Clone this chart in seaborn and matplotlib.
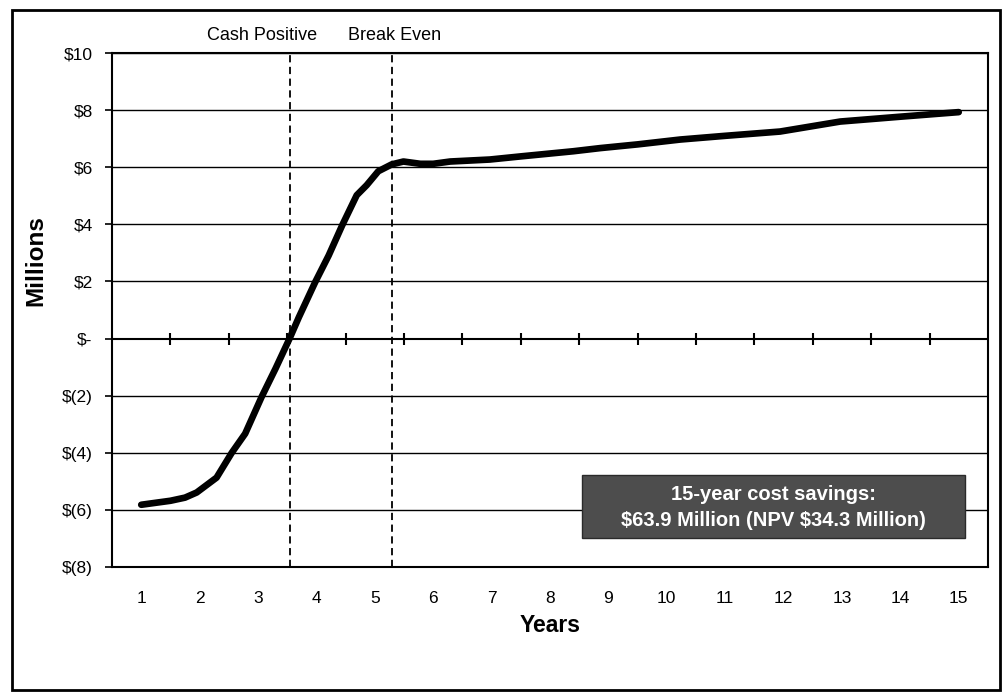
import matplotlib
matplotlib.use("Agg")
import matplotlib.pyplot as plt
from matplotlib.patches import Rectangle
import matplotlib.ticker as mticker
import numpy as np
import pandas as pd
import seaborn as sns

# Cumulative savings over the project life (millions of dollars)
years_t = [1.0, 1.5, 1.75, 1.95, 2.29, 2.55, 2.78, 3.06, 3.30, 3.54, 3.70, 3.98,
           4.21, 4.44, 4.69, 4.86, 5.06, 5.29, 5.49, 5.78, 6.0, 6.29, 6.97, 7.5,
           8.0, 8.40, 8.86, 9.5, 10.23, 11.0, 11.94, 12.97, 14.0, 15.0]
cum_savings = [-5.82, -5.68, -5.57, -5.39, -4.87, -4.00, -3.33, -2.05, -1.05, 0.00,
               0.75, 1.98, 2.91, 3.96, 5.02, 5.37, 5.86, 6.10, 6.20, 6.12, 6.12,
               6.20, 6.27, 6.38, 6.48, 6.56, 6.67, 6.80, 6.97, 7.10, 7.25, 7.60,
               7.77, 7.93]

year_labels = list(range(1, 16))
y_ticks = [-8, -6, -4, -2, 0, 2, 4, 6, 8, 10]

milestone_names = ["Cash Positive", "Break Even"]
milestone_years = [3.54, 5.30]
milestone_label_x = [3.07, 5.33]

box_lines = ["15-year cost savings:", "$63.9 Million (NPV $34.3 Million)"]

sns.set_theme(style="white")
plt.rcParams["font.family"] = ["Liberation Sans", "DejaVu Sans"]

fig = plt.figure(figsize=(10.03, 6.93), dpi=100)
ax = fig.add_axes([0.1117, 0.1818, 0.8733, 0.7417])

df = pd.DataFrame({"year": years_t, "savings": cum_savings})

ax.set_xlim(0.5, 15.5)
ax.set_ylim(-8, 10)

# horizontal gridlines
for yv in y_ticks:
    ax.axhline(yv, color="black", lw=1.0 if yv != 0 else 1.5, zorder=1)

# category separators on the zero line
half = np.arange(1.5, 15.0, 1.0)
ax.plot(half, np.zeros_like(half), ls="none", marker="|", ms=9, mew=1.5,
        color="black", zorder=2)

# milestone markers
for name, xm, xl in zip(milestone_names, milestone_years, milestone_label_x):
    ax.axvline(xm, color="black", lw=1.3, ls=(0, (4, 2.5)), zorder=2)
    ax.text(xl, 1.035, name, transform=ax.get_xaxis_transform(),
            ha="center", va="center", fontsize=13, color="black")

sns.lineplot(data=df, x="year", y="savings", ax=ax, color="black", lw=4.8,
             estimator=None, sort=False, zorder=4,
             solid_capstyle="round", solid_joinstyle="round")

def money(v, pos):
    v = int(round(v))
    if v == 0:
        return "$-"
    if v < 0:
        return f"$({-v})"
    return f"${v}"

ax.set_yticks(y_ticks)
ax.yaxis.set_major_formatter(mticker.FuncFormatter(money))
ax.set_xticks(year_labels)
ax.set_xticklabels([str(y) for y in year_labels])

ax.tick_params(axis="x", length=0, pad=17, labelsize=12.5, colors="black")
ax.tick_params(axis="y", left=True, length=5, width=1.2, pad=9, labelsize=12.5,
               colors="black", direction="out")

ax.set_xlabel("Years", fontsize=16.5, fontweight="bold", labelpad=6, color="black")
ax.set_ylabel("Millions", fontsize=17.5, fontweight="bold", color="black", va="center")
ax.yaxis.set_label_coords(-0.0868, 0.597)

for s in ax.spines.values():
    s.set_visible(True)
    s.set_color("black")
    s.set_linewidth(1.5)

# savings summary box
ax.add_patch(Rectangle((0.5365, 0.0564), 0.4372, 0.1226, transform=ax.transAxes,
                       facecolor="#4d4d4d", edgecolor="#2a2a2a", lw=1, zorder=5))
ax.text(0.7551, 0.141, box_lines[0], transform=ax.transAxes, ha="center",
        va="center", fontsize=14.5, fontweight="bold", color="white", zorder=6,
        parse_math=False)
ax.text(0.7551, 0.091, box_lines[1], transform=ax.transAxes, ha="center",
        va="center", fontsize=14.5, fontweight="bold", color="white", zorder=6,
        parse_math=False)

# outer chart frame
fig.patches.append(Rectangle((0.012, 0.005), 0.985, 0.981, transform=fig.transFigure,
                             fill=False, edgecolor="black", lw=2))

fig.savefig("out.png", dpi=100, facecolor="white")
